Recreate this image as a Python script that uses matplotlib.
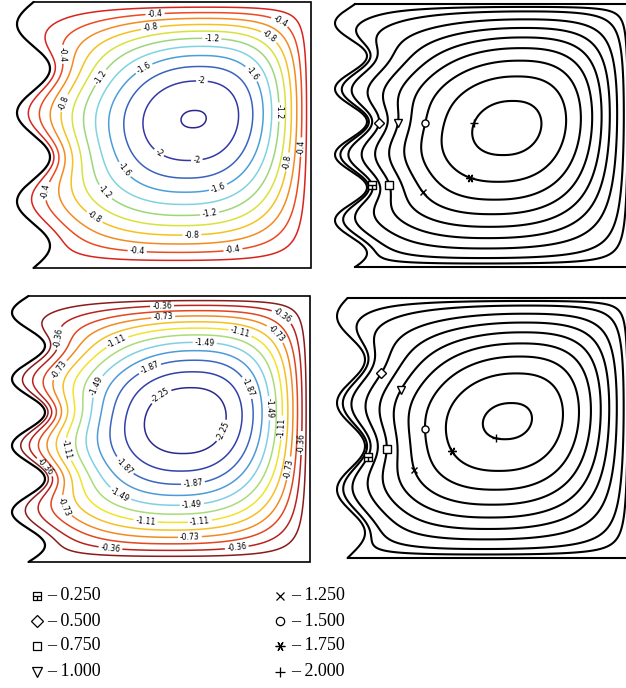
import numpy as np
import matplotlib
matplotlib.use("Agg")
import matplotlib.pyplot as plt
from matplotlib.path import Path

plt.rcParams["contour.negative_linestyle"] = "solid"

# ------------------------------------------------------------------ data
# top-left panel (coloured, labelled contours)
tl_levels = [-2.2, -2.0, -1.8, -1.6, -1.4, -1.2, -1.0, -0.8, -0.6, -0.4, -0.2]
tl_label_levels = [-2.0, -1.6, -1.2, -0.8, -0.4]
tl_psi_min = -2.21
tl_center = (0.578, 0.56)         # (xi, eta) of the vortex core
tl_colors = ["#2b2a8c", "#3438a6", "#3a62bd", "#4a9fd8", "#7fd3e0", "#9bd77a",
             "#d8e23c", "#f6c11e", "#f58a21", "#ec4a1f", "#d9231d"]

# bottom-left panel
bl_levels = [-2.25, -2.06, -1.87, -1.68, -1.49, -1.30, -1.11, -0.92, -0.73, -0.55, -0.36, -0.18]
bl_label_levels = [-2.25, -1.87, -1.49, -1.11, -0.73, -0.36]
bl_psi_min = -2.40
bl_center = (0.563, 0.534)
bl_colors = ["#2a2a8e", "#3240aa", "#3a66bf", "#4c9bd8", "#7fd0e2", "#a9dc78",
             "#efe42a", "#f6bf22", "#f28a22", "#e2461f", "#b8231f", "#8a1b1b"]

# right panels (digitised reference solution, black contours)
r_levels = [-2.0, -1.75, -1.5, -1.25, -1.0, -0.75, -0.5, -0.25, -0.1]
tr_psi_min = -2.09
tr_center = (0.563, 0.53)
br_psi_min = -2.04
br_center = (0.563, 0.527)

# legend
legend_values = [-0.250, -0.500, -0.750, -1.000, -1.250, -1.500, -1.750, -2.000]
legend_labels = ["\u2013 0.250", "\u2013 0.500", "\u2013 0.750", "\u2013 1.000",
                 "\u2013 1.250", "\u2013 1.500", "\u2013 1.750", "\u2013 2.000"]

# ------------------------------------------------------------------ layout (figure pixels)
layout = {
    "tl": dict(xc=33.5, amp=16.5, nwave=3, phase=np.pi, x_right=311, y_top=2, y_bot=268, tilt=0.12),
    "bl": dict(xc=28.5, amp=16.5, nwave=4, phase=np.pi, x_right=310, y_top=296, y_bot=562, tilt=0.12),
    "tr": dict(xc=351, amp=16, nwave=4, phase=2.88, x_right=630, y_top=4, y_bot=267, tilt=0.18),
    "br": dict(xc=351, amp=14, nwave=3, phase=3.39, x_right=630, y_top=298, y_bot=558, tilt=0.18),
}

# label anchor positions (pixels) for each labelled level
tl_label_pos = {
    -0.4: [(155, 13), (285, 12), (52, 55), (42, 190), (137, 255), (233, 250), (302, 147)],
    -0.8: [(150, 25), (276, 27), (57, 100), (83, 235), (192, 237), (288, 162)],
    -1.2: [(212, 35), (90, 70), (88, 208), (210, 216), (283, 112)],
    -1.6: [(142, 65), (263, 65), (105, 185), (218, 187)],
    -2.0: [(202, 79), (152, 163), (197, 162)],
}
bl_label_pos = {
    -0.36: [(162, 304), (290, 304), (47, 338), (40, 472), (110, 553), (237, 550), (303, 443)],
    -0.73: [(163, 314), (290, 320), (53, 365), (53, 512), (190, 540), (287, 468)],
    -1.11: [(113, 333), (243, 321), (58, 452), (145, 527), (200, 523), (287, 428)],
    -1.49: [(205, 336), (83, 380), (113, 507), (192, 507), (278, 408)],
    -1.87: [(147, 362), (265, 380), (110, 480), (193, 484)],
    -2.25: [(157, 390), (227, 433)],
}

# marker rows (pixel y) on which each level's symbol sits, per right panel
tr_marker_rows = {-0.25: 185, -0.5: 123, -0.75: 185, -1.0: 123,
                  -1.25: 192, -1.5: 123, -1.75: 178, -2.0: 123}
br_marker_rows = {-0.25: 457, -0.5: 373, -0.75: 449, -1.0: 390,
                  -1.25: 470, -1.5: 429, -1.75: 451, -2.0: 438}

# ------------------------------------------------------------------ helpers
box_marker = Path([(-1, -1), (1, -1), (1, 1), (-1, 1), (-1, -1), (-1, 0), (1, 0), (0, 0), (0, -1)],
                  [Path.MOVETO, Path.LINETO, Path.LINETO, Path.LINETO, Path.CLOSEPOLY,
                   Path.MOVETO, Path.LINETO, Path.MOVETO, Path.LINETO])
marker_styles = {-0.25: (box_marker, 6.0), -0.5: ("D", 6.0), -0.75: ("s", 6.0),
                 -1.0: ("v", 6.5), -1.25: ("x", 5.5), -1.5: ("o", 6.0),
                 -1.75: ((6, 2, 90), 7.0), -2.0: ("+", 7.5)}


def panel_field(p, center, psi_min, qx=2.3, qy=2.0, lam=0.12, n=420):
    xi = np.linspace(0, 1, n)
    eta = np.linspace(0, 1, n)
    XI, ETA = np.meshgrid(xi, eta)
    s = 1 - ETA
    xw = p["xc"] + p["amp"] * np.sin(2 * np.pi * p["nwave"] * s + p["phase"])
    W = p["x_right"] - p["xc"]
    Xp = p["xc"] + W * XI + (xw - p["xc"]) * (1 - XI) * np.exp(-XI / lam)
    Yp = p["y_top"] + s * (p["y_bot"] - p["y_top"])
    xi0, eta0 = center
    a = (xi0 - 0.5) / np.sin(np.pi * xi0)
    b = (eta0 - 0.5) / np.sin(np.pi * eta0)
    XIw = XI - (a + p["tilt"] * (ETA - eta0)) * np.sin(np.pi * XI)
    ETw = ETA - b * np.sin(np.pi * ETA)
    X = np.abs(2 * XIw - 1)
    Y = np.abs(2 * ETw - 1)
    psi = psi_min * (1 - X ** qx) * (1 - Y ** qy)
    return Xp, Yp, psi


def wall_outline(p, n=600):
    s = np.linspace(0, 1, n)
    xw = p["xc"] + p["amp"] * np.sin(2 * np.pi * p["nwave"] * s + p["phase"])
    yw = p["y_top"] + s * (p["y_bot"] - p["y_top"])
    return xw, yw


def draw_box(ax, p, lw_wall, lw_box, color="k"):
    xw, yw = wall_outline(p)
    ax.plot(xw, yw, color=color, lw=lw_wall, solid_capstyle="round")
    ax.plot([xw[0], p["x_right"], p["x_right"], xw[-1]],
            [p["y_top"], p["y_top"], p["y_bot"], p["y_bot"]],
            color=color, lw=lw_box, solid_joinstyle="miter")


def crossing_x(Xp, Yp, psi, level, y):
    i = np.argmin(np.abs(Yp[:, 0] - y))
    row = psi[i]
    j = np.argmax(row <= level)
    if j == 0:
        return None
    f = (level - row[j - 1]) / (row[j] - row[j - 1])
    return Xp[i, j - 1] + f * (Xp[i, j] - Xp[i, j - 1]), Yp[i, 0]


# ------------------------------------------------------------------ figure
fig = plt.figure(figsize=(6.26, 6.88), dpi=100)
ax = fig.add_axes([0, 0, 1, 1])
ax.set_xlim(0, 626)
ax.set_ylim(688, 0)
ax.axis("off")

# coloured panels
for key, levels, colors, lab_pos, psi_min, center, fmt in [
        ("tl", tl_levels, tl_colors, tl_label_pos, tl_psi_min, tl_center, "%g"),
        ("bl", bl_levels, bl_colors, bl_label_pos, bl_psi_min, bl_center, "%.2f")]:
    p = layout[key]
    Xp, Yp, psi = panel_field(p, center, psi_min)
    for lev, col in zip(levels, colors):
        cs = ax.contour(Xp, Yp, psi, levels=[lev], colors=[col], linewidths=1.1)
        if lev in lab_pos:
            ax.clabel(cs, manual=lab_pos[lev], inline=True, inline_spacing=2,
                      fmt=fmt, fontsize=5.6, colors="k")
    draw_box(ax, p, 1.6, 1.2)

# black panels
for key, psi_min, center, rows in [("tr", tr_psi_min, tr_center, tr_marker_rows),
                                    ("br", br_psi_min, br_center, br_marker_rows)]:
    p = layout[key]
    Xp, Yp, psi = panel_field(p, center, psi_min)
    ax.contour(Xp, Yp, psi, levels=r_levels, colors="k", linewidths=1.5, linestyles="solid")
    draw_box(ax, p, 1.5, 1.5)
    for lev, y in rows.items():
        pt = crossing_x(Xp, Yp, psi, lev, y)
        if pt is None:
            continue
        mk, ms = marker_styles[lev]
        ax.plot([pt[0]], [pt[1]], marker=mk, ms=ms * 0.85, mfc="white", mec="k", mew=1.0,
                linestyle="none", zorder=5)

# legend
serif = ["Liberation Serif", "DejaVu Serif"]
leg_rows = [596, 621, 646, 672]
for k, (val, lab) in enumerate(zip(legend_values, legend_labels)):
    col = k // 4
    r = k % 4
    mx = 37 if col == 0 else 280
    tx = 47 if col == 0 else 291
    mk, ms = marker_styles[round(val, 2)]
    ax.plot([mx], [leg_rows[r]], marker=mk, ms=ms, mfc="white", mec="k", mew=0.9,
            linestyle="none")
    ax.text(tx, leg_rows[r], lab, family=serif, fontsize=13, va="center", ha="left")

fig.savefig("out.png", dpi=100)
